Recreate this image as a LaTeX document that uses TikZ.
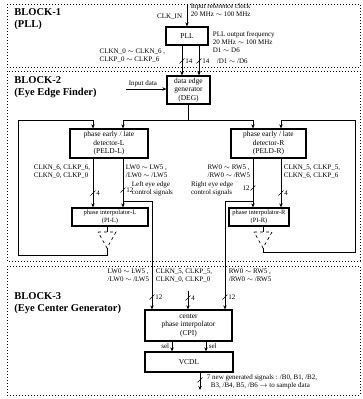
\documentclass[tikz,border=0pt]{standalone}
\usepackage{fontspec}
\setmainfont{Liberation Serif}
\usetikzlibrary{arrows.meta, positioning, calc}
\tikzset{
  every picture/.style={line width=0.8pt},
  blk/.style={draw, line width=1pt, dash pattern=on 1pt off 2pt},
  box/.style={draw, line width=1.3pt, align=center, inner sep=0pt, font=\fontsize{7.5}{8.5}\selectfont},
  pibox/.style={box, font=\fontsize{6.5}{7.5}\selectfont},
  lbl/.style={font=\fontsize{7}{8}\selectfont, inner sep=0.5pt, align=left},
  ttl/.style={font=\fontsize{10.5}{12}\selectfont\bfseries, anchor=west, inner sep=0pt},
  arrow/.style={-{Stealth[length=4pt, width=3.5pt]}},
  buf/.style={draw, dashed, line width=0.7pt},
}
% slash on a bus line, width written to the right / to the left
\newcommand\busmark[2]{%
  \draw[line width=0.6pt] ($(#1)+(-2.5,2.5)$) -- ($(#1)+(2.5,-2.5)$);
  \node[lbl, anchor=west] at ($(#1)+(2.5,0)$) {#2};}
\newcommand\busmarkl[2]{%
  \draw[line width=0.6pt] ($(#1)+(-2.5,2.5)$) -- ($(#1)+(2.5,-2.5)$);
  \node[lbl, anchor=east] at ($(#1)+(-2.5,0)$) {#2};}

\begin{document}
\begin{tikzpicture}[x=1pt, y=-1pt]
  \useasboundingbox (0,0) rectangle (363,399);
  % the three blocks
  \draw[blk] (7,4) rectangle (360,67);
  \draw[blk] (7,71) rectangle (360,261);
  \draw[blk] (7,266) rectangle (360,395);
  \node[ttl] (b1) at (14,12) {BLOCK-1};
  \node[ttl] (b1n) at (14,25) {(PLL)};
  \node[ttl] (b2) at (14,80) {BLOCK-2};
  \node[ttl] (b2n) at (14,93) {(Eye Edge Finder)};
  \node[ttl] (b3) at (14,296) {BLOCK-3};
  \node[ttl] (b3n) at (14,309) {(Eye Center Generator)};

  % boxes
  \node[box, minimum width=42pt, minimum height=18pt] (pll) at (187,36) {PLL};
  \node[box, minimum width=43pt, minimum height=28pt] (deg) at (188.5,90) {data edge\\generator\\(DEG)};
  \node[box, minimum width=78pt, minimum height=29pt] (peldl) at (109,143.5) {phase early / late\\detector-L\\(PELD-L)};
  \node[box, minimum width=75pt, minimum height=29pt] (peldr) at (268.5,143.5) {phase early / late\\detector-R\\(PELD-R)};
  \node[pibox, minimum width=76pt, minimum height=18pt] (pil) at (110,217) {phase interpolator-L\\(PI-L)};
  \node[pibox, minimum width=60pt, minimum height=18pt] (pir) at (259,217) {phase interpolator-R\\(PI-R)};
  \node[box, minimum width=87pt, minimum height=31pt] (cpi) at (188.5,325.5) {center\\phase interpolator\\(CPI)};
  \node[box, minimum width=88pt, minimum height=20pt] (vcdl) at (189,362) {VCDL};

  % output buffers of the interpolators
  \coordinate (tril) at (107,240);
  \coordinate (trir) at (263,240);
  \draw[buf] (tril) ++(-9,-8) -- ++(18,0) -- ++(-9,16) -- cycle;
  \draw[buf] (trir) ++(-9,-8) -- ++(18,0) -- ++(-9,16) -- cycle;
  \coordinate (trilout) at ($(tril)+(0,8)$);
  \coordinate (trirout) at ($(trir)+(0,8)$);
  \draw (pil.south -| tril) -- ($(tril)+(0,-8)$);
  \draw (pir.south -| trir) -- ($(trir)+(0,-8)$);

  % x positions of the vertical lines
  \coordinate (xa) at (182,0);
  \coordinate (xb) at (199,0);
  \coordinate (xl4) at (93,0);
  \coordinate (xl12) at (123,0);
  \coordinate (xr12) at (253,0);
  \coordinate (xr4) at (281,0);
  \coordinate (xlc) at (152,0);
  \coordinate (xrc) at (225,0);
  \coordinate (xs1) at (172,0);
  \coordinate (xs2) at (206,0);

  % block 1
  \coordinate (clkin) at (187,4);
  \draw[arrow] (clkin) -- (pll.north);
  \node[lbl, anchor=east] (clkinl) at (183,17) {CLK\_IN};
  \node[lbl, anchor=north west] (refl) at (190,3) {Input reference clock\\20 MHz $\sim$ 100 MHz};
  \node[lbl, anchor=north west] (outl) at (212,31) {PLL output frequency\\20 MHz $\sim$ 100 MHz\\D1 $\sim$ D6};
  \node[lbl, anchor=west] (dbl) at (216,61) {/D1 $\sim$ /D6};
  \node[lbl, anchor=north east] (clkl) at (166,48) {CLKN\_0 $\sim$ CLKN\_6 ,\\CLKP\_0 $\sim$ CLKP\_6};
  \draw[arrow] (pll.south -| xa) -- (deg.north -| xa);
  \draw[arrow] (pll.south -| xb) -- (deg.north -| xb);
  \busmark{182,61}{14}
  \busmark{199,61}{14}

  % block 2
  \coordinate (din) at (126,89);
  \draw[arrow] (din) -- (din -| deg.west);
  \node[lbl, anchor=south] (dinl) at (143,88) {Input data};
  \coordinate (degj) at (188.5,120);
  \draw (deg.south) -- (degj);
  \draw[arrow] (degj) -| (peldl.north -| xl12);
  \draw[arrow] (degj) -| (peldr.north -| xr12);
  \coordinate (lpb) at (18,255);
  \coordinate (lpt) at (18,120);
  \draw[arrow] (trilout) |- (lpb) -- (lpt) -| (peldl.north -| xl4);
  \coordinate (rpb) at (355,252);
  \coordinate (rpt) at (355,120);
  \draw[arrow] (trirout) |- (rpb) -- (rpt) -| (peldr.north -| xr4);

  \draw[arrow] (peldl.south -| xl4) -- (pil.north -| xl4);
  \draw[arrow] (peldl.south -| xl12) -- (pil.north -| xl12);
  \coordinate (lbr) at (123,201);
  \draw[arrow] (lbr) -| (cpi.north -| xlc);
  \draw[arrow] (peldr.south -| xr12) -- (pir.north -| xr12);
  \draw[arrow] (peldr.south -| xr4) -- (pir.north -| xr4);
  \coordinate (rbr) at (253,201);
  \draw[arrow] (rbr) -| (cpi.north -| xrc);

  \node[lbl, anchor=north east] (lclk) at (91,164) {CLKN\_6, CLKP\_6,\\CLKN\_0, CLKP\_0};
  \node[lbl, anchor=north west] (lw) at (125,164) {LW0 $\sim$ LW5 ,\\/LW0 $\sim$ /LW5};
  \node[lbl, anchor=north west] (lctl) at (131,181) {Left eye edge\\control signals};
  \node[lbl, anchor=north east] (rw) at (251,164) {RW0 $\sim$ RW5 ,\\/RW0 $\sim$ /RW5};
  \node[lbl, anchor=north west] (rclk) at (283,164) {CLKN\_5, CLKP\_5,\\CLKN\_6, CLKP\_6};
  \node[lbl, anchor=north east] (rctl) at (234,181) {Right eye edge\\control signals};
  \busmark{93,193}{4}
  \busmark{123,190}{12}
  \busmarkl{253,188}{12}
  \busmark{281,193}{4}

  % block 3
  \node[lbl, anchor=north east] (lw3) at (150,268) {LW0 $\sim$ LW5 ,\\/LW0 $\sim$ /LW5};
  \node[lbl, anchor=north west] (clk3) at (155,268) {CLKN\_5, CLKP\_5,\\CLKN\_0, CLKP\_0};
  \node[lbl, anchor=north west] (rw3) at (228,268) {RW0 $\sim$ RW5 ,\\/RW0 $\sim$ /RW5};
  \coordinate (cpiclk) at (188,291);
  \draw[arrow] (cpiclk) -- (cpi.north -| cpiclk);
  \busmark{152,297}{12}
  \busmark{188,298}{4}
  \busmark{225,297}{12}

  \draw[arrow] (cpi.south -| xs1) -- (vcdl.north -| xs1);
  \draw[arrow] (cpi.south -| xs2) -- (vcdl.north -| xs2);
  \node[lbl, anchor=east] (sel1) at (170,346) {sel};
  \node[lbl, anchor=west] (sel2) at (208,346) {sel};

  \coordinate (vout) at (200,390);
  \draw[arrow] (vcdl.south -| vout) -- (vout);
  \busmark{200,380}{}
  \node[lbl, anchor=north west] (outs) at (206,374) {7 new generated signals : /B0, B1, /B2,\\\hspace*{4pt}B3, /B4, B5, /B6 $\rightarrow$ to sample data};
\end{tikzpicture}
\end{document}
